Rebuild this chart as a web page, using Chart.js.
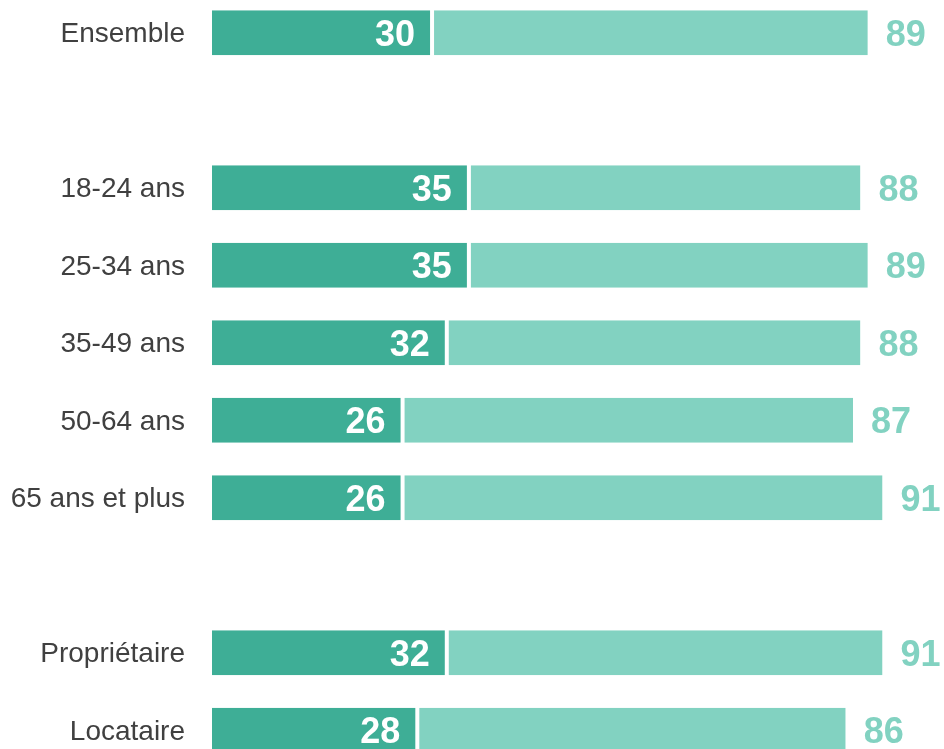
<!DOCTYPE html>
<html>
<head>
<meta charset="utf-8">
<script src="https://cdn.jsdelivr.net/npm/chart.js@4/dist/chart.umd.min.js"></script>
<style>
html,body{margin:0;padding:0;background:#fff;overflow:hidden;width:944px;height:749px;}
#wrap{position:absolute;left:0;top:-6px;width:944px;height:775px;}
</style>
</head>
<body>
<div id="wrap"><canvas id="c"></canvas></div>
<script>
const categories = ['Ensemble', '', '18-24 ans', '25-34 ans', '35-49 ans', '50-64 ans', '65 ans et plus', '', 'Propriétaire', 'Locataire'];
const firstValues = [30, null, 35, 35, 32, 26, 26, null, 32, 28];
const totalValues = [89, null, 88, 89, 88, 87, 91, null, 91, 86];

const DARK = '#3eae96';
const LIGHT = '#82d2c1';
const FONT = '"Liberation Sans", Arial, sans-serif';

const lightData = categories.map((c, i) => firstValues[i] == null ? null : [firstValues[i], totalValues[i]]);

const labelPlugin = {
  id: 'valueLabels',
  afterDatasetsDraw(chart) {
    const ctx = chart.ctx;
    const xs = chart.scales.x, ys = chart.scales.y;
    ctx.save();
    ctx.font = 'bold 36px ' + FONT;
    ctx.textBaseline = 'middle';
    categories.forEach((c, i) => {
      if (firstValues[i] == null) return;
      const y = ys.getPixelForValue(i) + 3;
      ctx.fillStyle = '#ffffff';
      ctx.textAlign = 'right';
      ctx.fillText(String(firstValues[i]), xs.getPixelForValue(firstValues[i]) - 18, y);
      ctx.fillStyle = LIGHT;
      ctx.textAlign = 'left';
      ctx.fillText(String(totalValues[i]), xs.getPixelForValue(totalValues[i]) + 18, y);
    });
    ctx.restore();
  }
};

new Chart(document.getElementById('c'), {
  type: 'bar',
  data: {
    labels: categories,
    datasets: [
      {
        data: lightData,
        backgroundColor: LIGHT,
        borderColor: '#ffffff',
        borderWidth: {left: 1, right: 0, top: 0, bottom: 0},
        borderSkipped: false,
        categoryPercentage: 1,
        barPercentage: 0.58,
        grouped: false,
        order: 2
      },
      {
        data: firstValues,
        backgroundColor: DARK,
        borderColor: '#ffffff',
        borderWidth: {left: 0, right: 3, top: 0, bottom: 0},
        borderSkipped: false,
        categoryPercentage: 1,
        barPercentage: 0.58,
        grouped: false,
        order: 1
      }
    ]
  },
  options: {
    indexAxis: 'y',
    responsive: true,
    maintainAspectRatio: false,
    animation: false,
    layout: {padding: {left: 0, right: 32, top: 0, bottom: 0}},
    plugins: {legend: {display: false}, tooltip: {enabled: false}},
    scales: {
      x: {display: false, min: 0, max: 95},
      y: {
        grid: {display: false, drawTicks: false},
        border: {display: false},
        ticks: {color: '#404040', font: {family: FONT, size: 28}, padding: 27, autoSkip: false, labelOffset: 2},
        afterFit(scale) { scale.width = 212; scale.paddingTop = 0; scale.paddingBottom = 0; }
      }
    }
  },
  plugins: [labelPlugin]
});
</script>
</body>
</html>
